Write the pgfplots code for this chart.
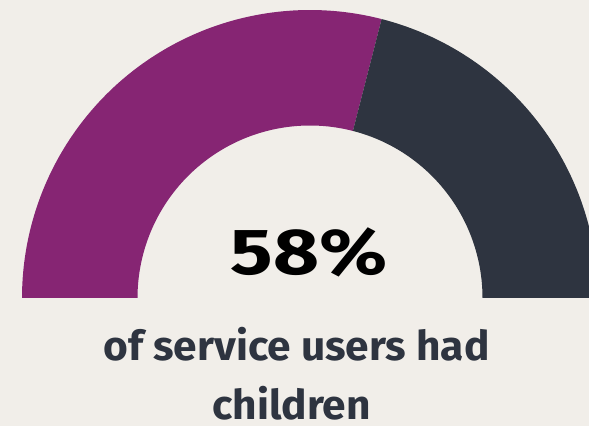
\documentclass[border=0pt]{standalone}
\usepackage{pgfplots}
\pgfplotsset{compat=1.18}
\usepackage{fontspec}
\setmainfont{Fira Sans}
\definecolor{bgc}{HTML}{F1EEE9}
\definecolor{gpurple}{HTML}{862573}
\definecolor{gdark}{HTML}{2E3440}
\def\val{58}
\def\R{288}
\def\ri{172.5}
\def\cx{310}
\def\cy{128}
\begin{document}
\begin{tikzpicture}
\begin{axis}[
  scale only axis, width=589pt, height=426pt,
  xmin=0, xmax=589, ymin=0, ymax=426,
  axis lines=none, ticks=none,
  axis background/.style={fill=bgc},
  clip=true,
]
% purple part: from 180 deg down to 180-1.8*val
\addplot[fill=gpurple, draw=none, mark=none, variable=\t, samples at={0,1,...,201}]
 ({\cx + ifthenelse(\t<100.5,\R,\ri)*cos(180 - 1.8*\val*ifthenelse(\t<100.5,\t/100,(201-\t)/100))},
  {\cy + ifthenelse(\t<100.5,\R,\ri)*sin(180 - 1.8*\val*ifthenelse(\t<100.5,\t/100,(201-\t)/100))});
% dark part: remaining share
\addplot[fill=gdark, draw=none, mark=none, variable=\t, samples at={0,1,...,201}]
 ({\cx + ifthenelse(\t<100.5,\R,\ri)*cos((180 - 1.8*\val)*(1-ifthenelse(\t<100.5,\t/100,(201-\t)/100)))},
  {\cy + ifthenelse(\t<100.5,\R,\ri)*sin((180 - 1.8*\val)*(1-ifthenelse(\t<100.5,\t/100,(201-\t)/100)))});
\node[anchor=base, inner sep=0pt, text=black, xscale=1.22, font=\fontsize{65}{65}\selectfont\bfseries] at (axis cs:309,151) {58\%};
\node[anchor=base, inner sep=0pt, text=gdark, xscale=1.035, font=\fontsize{41}{41}\selectfont\bfseries] at (axis cs:296.5,66) {of service users had};
\node[anchor=base, inner sep=0pt, text=gdark, xscale=1.035, font=\fontsize{41}{41}\selectfont\bfseries] at (axis cs:291.7,7) {children};
\end{axis}
\end{tikzpicture}
\end{document}
